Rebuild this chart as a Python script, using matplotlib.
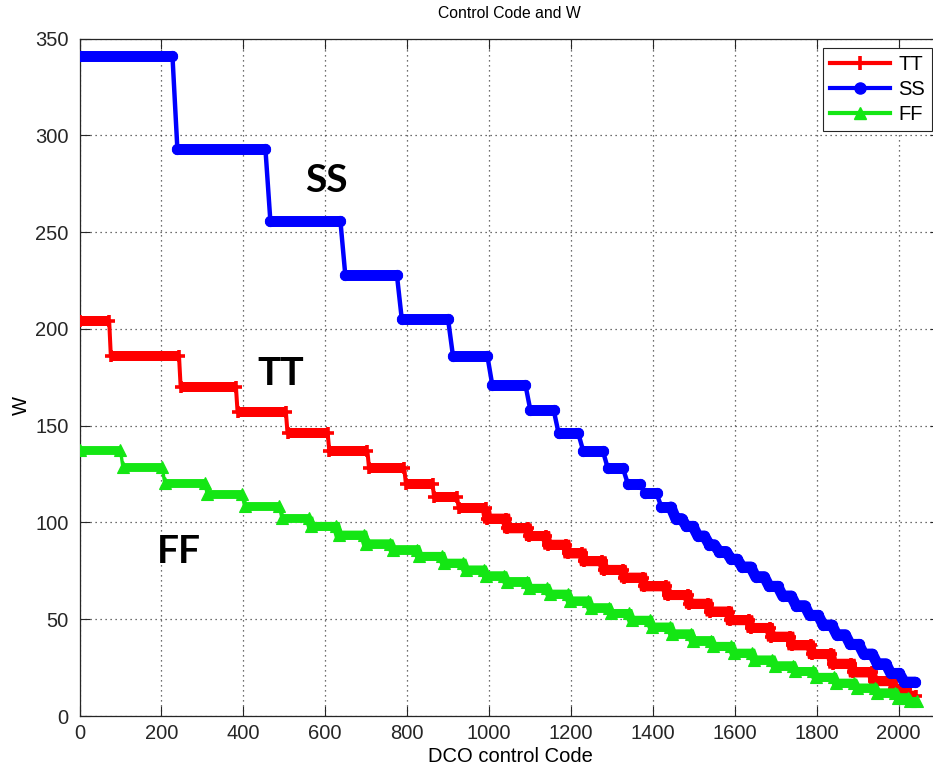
import numpy as np
import matplotlib
matplotlib.use("Agg")
import matplotlib.pyplot as plt
from matplotlib.lines import Line2D

plt.rcParams['font.family'] = ['Liberation Sans', 'DejaVu Sans']

# ---------------- data ----------------
# Each curve is a staircase: level[i] holds between edge[i] and edge[i+1]
ss_edges = [0, 233, 460, 643, 781, 906, 1002, 1095, 1164, 1224,
            1284, 1333, 1374, 1415, 1450, 1476, 1504, 1532, 1556, 1585,
            1612, 1645, 1678, 1711, 1744, 1777, 1810, 1843, 1876, 1909,
            1942, 1975, 2008, 2040]
ss_levels = [341, 293, 256, 228, 205, 186, 171, 158, 146, 137,
             128, 120, 115, 108, 102, 98, 93, 88.5, 85, 81,
             77, 72, 67, 62, 57, 52, 47, 42, 37, 32,
             27, 22, 17.5]

tt_edges = [0, 74.5, 245, 384, 506, 608, 705, 795, 864, 924,
            994, 1043, 1096, 1141, 1190, 1230, 1279, 1328, 1377, 1434,
            1487, 1537, 1587, 1637, 1687, 1737, 1787, 1837, 1887, 1937,
            1987, 2020, 2042]
tt_levels = [204, 186, 170, 157, 146, 137, 128, 120, 113, 107.5,
             102, 97, 93, 88.5, 84, 80, 75.5, 71.5, 67, 62.5,
             58, 54, 49.5, 45.5, 41, 36.5, 32, 27, 22.5, 18,
             14, 10.5]

ff_edges = [0, 103, 205, 309, 400, 491, 563, 630, 697, 762,
            827, 888, 940, 990, 1040, 1095, 1145, 1195, 1245, 1295,
            1345, 1395, 1445, 1495, 1545, 1595, 1645, 1695, 1745, 1795,
            1845, 1895, 1945, 1995, 2025, 2045]
ff_levels = [137.5, 128.5, 120.5, 114.5, 108.5, 102.5, 98, 93.5, 89, 86,
             82.5, 79, 75.5, 72.5, 69.5, 66, 63, 59.5, 56, 53,
             49.5, 46, 42.5, 39, 36, 32.5, 29, 26, 23, 20,
             17, 14.5, 12, 9.5, 7.5]

series_names = ['TT', 'SS', 'FF']
x_ticks = [0, 200, 400, 600, 800, 1000, 1200, 1400, 1600, 1800, 2000]
y_ticks = [0, 50, 100, 150, 200, 250, 300, 350]

# ---------------- figure ----------------
W_PX, H_PX = 933, 771
fig = plt.figure(figsize=(W_PX / 100, H_PX / 100), dpi=100)
ax = fig.add_axes([79.5 / W_PX, 55 / H_PX, 860 / W_PX, 677.3 / H_PX])

RED = '#ff0000'
BLUE = '#0000ff'
GREEN = '#14e614'


def draw_staircase(edges, levels, color, marker, band_pt, thin_pt, ms, mew,
                   cap, join, half_gap, dense_from, z):
    edges = np.asarray(edges, dtype=float)
    levels = np.asarray(levels, dtype=float)
    starts = edges[:-1].copy()
    ends = edges[1:].copy()
    starts[1:] += half_gap
    ends[:-1] -= half_gap
    px = np.column_stack([starts, ends]).ravel()
    py = np.column_stack([levels, levels]).ravel()
    # thin connecting line through all step corners
    ax.plot(px, py, color=color, lw=thin_pt, solid_capstyle='round',
            solid_joinstyle='round', zorder=z)
    # thick flat parts
    lc = ax.hlines(levels, starts, ends, colors=color, lw=band_pt, zorder=z)
    lc.set_capstyle(cap)
    # where the steps get small the marks merge into one thick band
    k = 2 * dense_from - 1
    ax.plot(px[k:], py[k:], color=color, lw=band_pt, solid_capstyle=cap,
            solid_joinstyle=join, zorder=z)
    # markers at the ends of every flat part
    ax.plot(np.concatenate([starts, ends]), np.concatenate([levels, levels]),
            ls='none', marker=marker, ms=ms, mew=mew, color=color,
            mfc=color, mec=color, zorder=z)


draw_staircase(tt_edges, tt_levels, RED, '+', 7.2, 2.9, 8.5, 2.6,
               'butt', 'miter', 2, 10, 3)
draw_staircase(ss_edges, ss_levels, BLUE, 'o', 7.9, 3.2, 7.6, 0.5,
               'round', 'round', 6, 14, 4)
draw_staircase(ff_edges, ff_levels, GREEN, '^', 6.4, 2.4, 8.0, 0.8,
               'butt', 'miter', 3, 6, 5)

# ---------------- axes styling ----------------
ax.set_xlim(0, 2100)
ax.set_ylim(0, 350)
ax.set_xticks(x_ticks)
ax.set_yticks(y_ticks)
ax.grid(True, linestyle=(0, (1, 3)), color='0.25', lw=0.9)
ax.set_axisbelow(True)
ax.tick_params(direction='in', length=7, width=0.8, top=True, right=True,
               labelsize=14.5, colors='0.15')
ax.tick_params(axis='x', pad=6)
ax.tick_params(axis='y', pad=8)
for s in ax.spines.values():
    s.set_color('0.15')
    s.set_linewidth(0.9)

ax.set_title('Control Code and W', fontsize=11.3, pad=15)
ax.set_xlabel('DCO control Code', fontsize=14.5)
ax.set_ylabel('W', fontsize=14.5)
ax.xaxis.set_label_coords(0.5006, -0.046)
ax.yaxis.set_label_coords(-0.056, 0.459)

# curve annotations
ax.text(550.7, 270.8, 'SS', fontfamily='Lato', fontweight='bold', fontsize=28,
        ha='left', va='baseline', zorder=6)
ax.text(433.5, 171, 'TT', fontfamily='Lato', fontweight='bold', fontsize=28,
        ha='left', va='baseline', zorder=6)
ax.text(188.5, 79.1, 'FF', fontfamily='Lato', fontweight='bold', fontsize=28,
        ha='left', va='baseline', zorder=6)

# legend
handles = [
    Line2D([], [], color=RED, lw=3.0, marker='+', ms=9.5, mew=2.6),
    Line2D([], [], color=BLUE, lw=3.0, marker='o', ms=8),
    Line2D([], [], color=GREEN, lw=3.0, marker='^', ms=8.5),
]
leg = ax.legend(handles, series_names, loc='upper right',
                bbox_to_anchor=(0.9913, 0.9858), borderaxespad=0,
                fontsize=14.5, handlelength=3.0, handletextpad=0.4,
                borderpad=0.35, labelspacing=0.3, fancybox=False,
                framealpha=1, edgecolor='0.15')
leg.get_frame().set_linewidth(0.8)
leg.set_zorder(10)

fig.savefig('out.png', dpi=100)
